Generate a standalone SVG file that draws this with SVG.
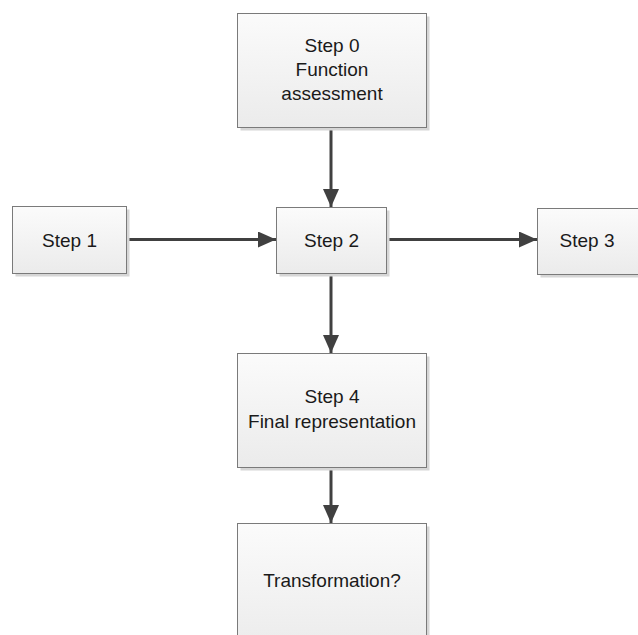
<svg xmlns="http://www.w3.org/2000/svg" width="638" height="635" viewBox="0 0 638 635">
  <style>
    .box { fill: url(#boxFill); stroke: #7a7a7a; stroke-width: 1; }
    .shadow { fill: #d6d6d6; }
    .label { font-family: "Liberation Sans", Arial, sans-serif; font-size: 19px; fill: #1a1a1a; text-anchor: middle; }
    .conn { stroke: #404040; stroke-width: 3; fill: none; marker-end: url(#arrow); }
  </style>
  <defs>
    <linearGradient id="boxFill" x1="0" y1="0" x2="0" y2="1">
      <stop offset="0" stop-color="#fbfbfb"/>
      <stop offset="1" stop-color="#ebebeb"/>
    </linearGradient>
    <marker id="arrow" markerUnits="userSpaceOnUse" markerWidth="18" markerHeight="16" refX="18" refY="8" orient="auto">
      <path d="M0,0 L18,8 L0,16 Z" fill="#404040"/>
    </marker>
  </defs>
  <rect width="638" height="635" fill="#ffffff"/>

  <g id="connectors">
    <line class="conn" x1="331" y1="127" x2="331" y2="207"/>
    <line class="conn" x1="126" y1="239.5" x2="276" y2="239.5"/>
    <line class="conn" x1="386" y1="239.5" x2="537" y2="239.5"/>
    <line class="conn" x1="331" y1="273" x2="331" y2="353"/>
    <line class="conn" x1="331" y1="467" x2="331" y2="523"/>
  </g>

  <g id="step0">
    <rect class="shadow" x="240.5" y="16.5" width="189" height="114"/>
    <rect class="box" x="237.5" y="13.5" width="189" height="114"/>
    <text class="label" x="332" y="52">Step 0</text>
    <text class="label" x="332" y="76">Function</text>
    <text class="label" x="332" y="100">assessment</text>
  </g>

  <g id="step1">
    <rect class="shadow" x="15.5" y="209.5" width="114" height="67"/>
    <rect class="box" x="12.5" y="206.5" width="114" height="67"/>
    <text class="label" x="69.5" y="247">Step 1</text>
  </g>

  <g id="step2">
    <rect class="shadow" x="279.5" y="210.5" width="110" height="66"/>
    <rect class="box" x="276.5" y="207.5" width="110" height="66"/>
    <text class="label" x="331.5" y="247">Step 2</text>
  </g>

  <g id="step3">
    <rect class="shadow" x="540.5" y="211.5" width="110" height="66"/>
    <rect class="box" x="537.5" y="208.5" width="110" height="66"/>
    <text class="label" x="587" y="247">Step 3</text>
  </g>

  <g id="step4">
    <rect class="shadow" x="240.5" y="356.5" width="189" height="114"/>
    <rect class="box" x="237.5" y="353.5" width="189" height="114"/>
    <text class="label" x="332" y="403">Step 4</text>
    <text class="label" x="332" y="428">Final representation</text>
  </g>

  <g id="transformation">
    <rect class="shadow" x="240.5" y="526.5" width="189" height="130"/>
    <rect class="box" x="237.5" y="523.5" width="189" height="130"/>
    <text class="label" x="332" y="587">Transformation?</text>
  </g>
</svg>
